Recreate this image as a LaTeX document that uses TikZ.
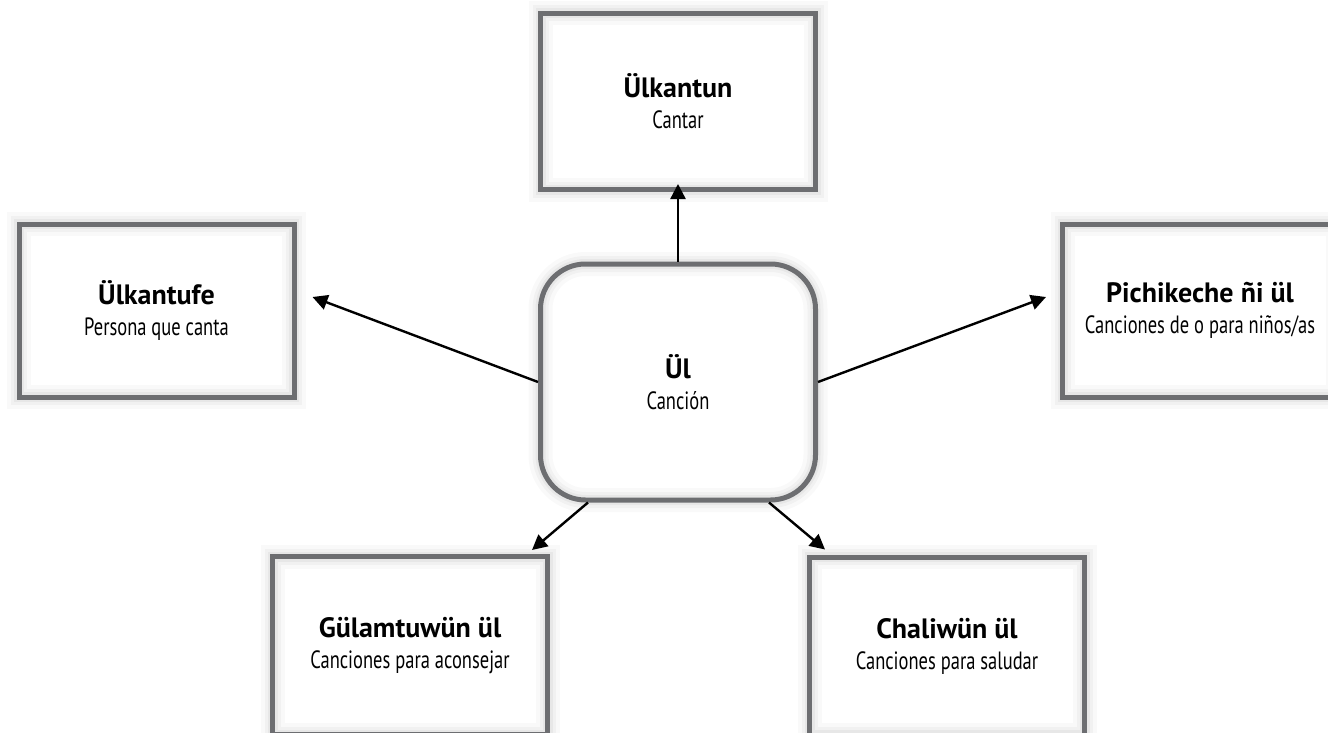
\documentclass[tikz,border=0pt]{standalone}
\usepackage{fontspec}
\usetikzlibrary{arrows.meta}
\newfontfamily\headfont{PT Sans}
\newfontfamily\glossfont{PT Sans}[FakeStretch=0.74]
\definecolor{framegray}{RGB}{109,110,113}
\newcommand{\entry}[2]{{\headfont\bfseries\fontsize{28}{25}\selectfont #1}\\[6pt]{\glossfont\fontsize{25}{25}\selectfont #2}}
\begin{document}
\begin{tikzpicture}[x=1pt,y=-1pt,
  frame/.style={draw=framegray, line width=5pt, align=center, inner sep=0pt,
    minimum width=275pt, font=\glossfont\fontsize{25}{25}\selectfont,
    preaction={fill=white},
    preaction={draw=black, line width=24pt, opacity=0.025},
    preaction={draw=black, line width=16pt, opacity=0.03},
    preaction={draw=black, line width=10pt, opacity=0.04}},
  hubframe/.style={frame, rounded corners=45pt, minimum height=236pt},
  leaf/.style={frame, minimum height=173pt},
  link/.style={line width=2.4pt, -{Triangle[length=15pt,width=15pt]}}]
\useasboundingbox (0,0) rectangle (1328,733);
\clip (0,0) rectangle (1328,733);
\fill[white] (0,0) rectangle (1328,733);

% central concept
\node[hubframe] (hub) at (678,382) {\entry{Ül}{Canción}};

% surrounding terms
\node[leaf, minimum height=176pt] (sing) at (678,101.5) {\entry{Ülkantun}{Cantar}};
\node[leaf] (singer) at (156.5,310.5) {\entry{Ülkantufe}{Persona que canta}};
\node[leaf] (kids) at (1200,310.5) {\entry{Pichikeche ñi ül}{Canciones de o para niños/as}};
\node[leaf, minimum height=178pt] (advice) at (410,645.5) {\entry{Gülamtuwün ül}{Canciones para aconsejar}};
\node[leaf, minimum height=178pt] (greet) at (947,646) {\entry{Chaliwün ül}{Canciones para saludar}};

% connectors
\draw[link] (hub.north) -- ([yshift=8]sing.south);
\draw[link] (hub.west) -- ([shift={(16,-13.5)}]singer.east);
\draw[link] (hub.east) -- ([shift={(-14,-13.5)}]kids.west);
\draw[link] ([xshift=-90]hub.south) -- ([shift={(-18,-4)}]advice.north east);
\draw[link] ([xshift=91]hub.south) -- ([shift={(18,-5)}]greet.north west);
\end{tikzpicture}
\end{document}
